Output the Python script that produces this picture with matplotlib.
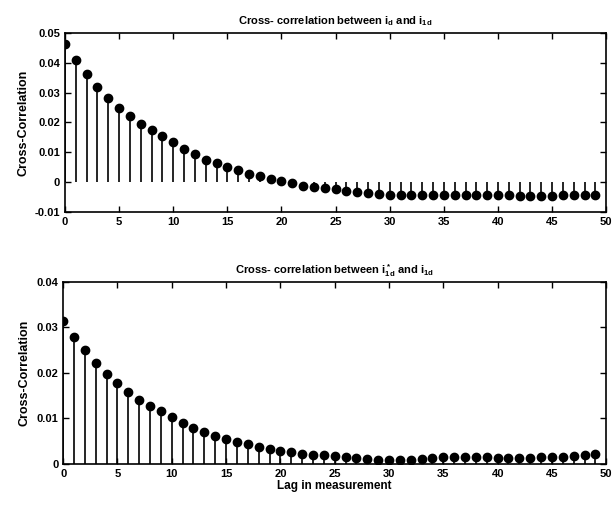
import matplotlib
matplotlib.use("Agg")
import matplotlib.pyplot as plt
import numpy as np

lags = list(range(50))
xcorr_top = [0.0463, 0.0408, 0.0364, 0.0320, 0.0281, 0.0248, 0.0222, 0.0196, 0.0173, 0.0154,
             0.0133, 0.0111, 0.0093, 0.0074, 0.0063, 0.0049, 0.0039, 0.0028, 0.0019, 0.0010,
             0.0003, -0.0004, -0.0012, -0.0016, -0.0020, -0.0025, -0.0029, -0.0034, -0.0038, -0.0041,
             -0.0044, -0.0045, -0.0045, -0.0044, -0.0044, -0.0043, -0.0043, -0.0042, -0.0042, -0.0042,
             -0.0043, -0.0045, -0.0046, -0.0046, -0.0046, -0.0046, -0.0045, -0.0045, -0.0044, -0.0043]
xcorr_bot = [0.0314, 0.0279, 0.0250, 0.0222, 0.0197, 0.0177, 0.0158, 0.0141, 0.0128, 0.0116,
             0.0103, 0.0089, 0.0078, 0.0069, 0.0062, 0.0055, 0.0049, 0.0043, 0.0037, 0.0033,
             0.0029, 0.0025, 0.0022, 0.0020, 0.0019, 0.0017, 0.0014, 0.0012, 0.0010, 0.0009,
             0.0008, 0.0008, 0.0009, 0.0010, 0.0012, 0.0014, 0.0015, 0.0016, 0.0016, 0.0015,
             0.0013, 0.0012, 0.0012, 0.0013, 0.0014, 0.0015, 0.0016, 0.0018, 0.0020, 0.0022]
xticks = [0, 5, 10, 15, 20, 25, 30, 35, 40, 45, 50]
yticks_top = [-0.01, 0, 0.01, 0.02, 0.03, 0.04, 0.05]
ylabels_top = ["-0.01", "0", "0.01", "0.02", "0.03", "0.04", "0.05"]
yticks_bot = [0, 0.01, 0.02, 0.03, 0.04]
ylabels_bot = ["0", "0.01", "0.02", "0.03", "0.04"]
title_top = "Cross- correlation between i$_d$ and i$_{1d}$"
title_bot = "Cross- correlation between i$^*_{1d}$ and i$_{1d}$"

plt.rcParams['font.family'] = ['Liberation Sans', 'DejaVu Sans']
plt.rcParams['font.weight'] = 'bold'
plt.rcParams['axes.labelweight'] = 'bold'
plt.rcParams['axes.titleweight'] = 'bold'
plt.rcParams['mathtext.fontset'] = 'custom'
plt.rcParams['mathtext.rm'] = 'Liberation Sans:bold'
plt.rcParams['mathtext.it'] = 'Liberation Sans:bold'

fig = plt.figure(figsize=(6.13, 5.08), dpi=100)
ax1 = fig.add_axes([0.106, 0.583, 0.883, 0.352])
ax2 = fig.add_axes([0.103, 0.087, 0.886, 0.358])

def draw(ax, y, yt, yl, ylim, title):
    ml, sl, bl = ax.stem(lags, y, linefmt='k-', markerfmt='ko', basefmt=' ')
    ml.set_markersize(6)
    sl.set_linewidth(1.2)
    ax.set_xlim(0, 50)
    ax.set_ylim(*ylim)
    ax.set_xticks(xticks)
    ax.set_xticklabels([str(t) for t in xticks])
    ax.set_yticks(yt)
    ax.set_yticklabels(yl)
    ax.tick_params(direction='in', top=True, right=True, labelsize=8, length=4, width=1)
    for s in ax.spines.values():
        s.set_linewidth(1.2)
    ax.set_title(title, fontsize=8, pad=6)
    ax.set_ylabel("Cross-Correlation", fontsize=9)

draw(ax1, xcorr_top, yticks_top, ylabels_top, (-0.01, 0.05), title_top)
draw(ax2, xcorr_bot, yticks_bot, ylabels_bot, (0, 0.04), title_bot)
ax2.set_xlabel("Lag in measurement", fontsize=8.5, labelpad=1)

fig.savefig("out.png", dpi=100)
